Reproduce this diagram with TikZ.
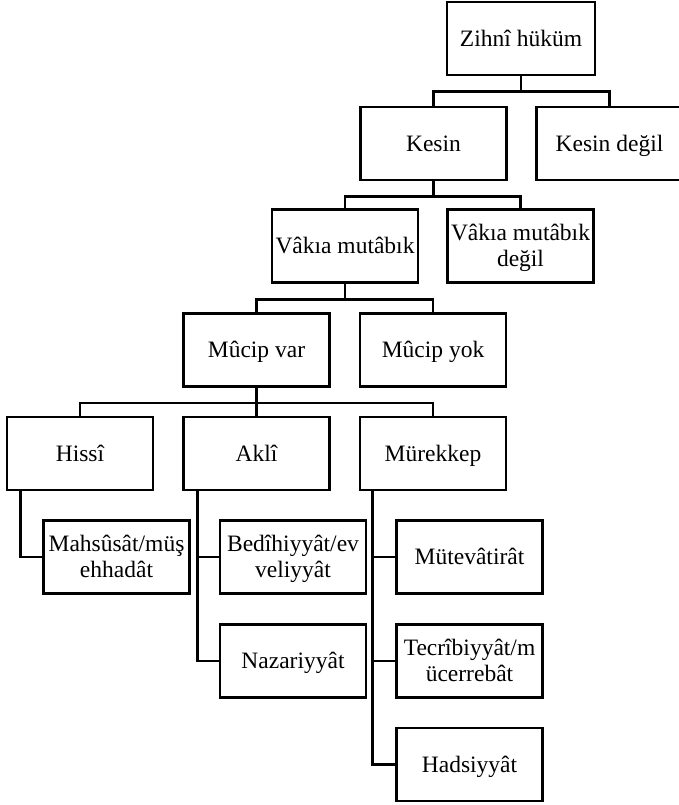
\documentclass[tikz,border=0pt]{standalone}
\usepackage{fontspec}
\setmainfont{Liberation Serif}
\newcommand\twolines[2]{\begin{tabular}[t]{@{}c@{}}#1\\#2\end{tabular}}
\begin{document}
\begin{tikzpicture}[x=1pt,y=-1pt,
  box/.style={draw, line width=2.7pt, minimum width=146pt, minimum height=73pt,
    inner sep=1pt, font=\fontsize{23.5}{26}\selectfont,
    text height=15.5pt, text depth=0pt},
  twobox/.style={box, text depth=26pt},
  conn/.style={line width=2.7pt}]
\useasboundingbox (0,0) rectangle (678,805);
\node[box, minimum width=148pt] (z) at (521,38.5) {Zihnî hüküm};
\node[box] (kesin) at (433.5,143.5) {Kesin};
\node[box] (kd) at (609.5,143.5) {Kesin değil};
\node[box] (vm) at (345,246) {Vâkıa mutâbık};
\node[twobox] (vmd) at (520.5,246) {\twolines{Vâkıa mutâbık}{değil}};
\node[box] (mv) at (256.5,350) {Mûcip var};
\node[box] (my) at (433,350) {Mûcip yok};
\node[box] (hissi) at (80,453.5) {Hissî};
\node[box] (akli) at (256.5,453.5) {Aklî};
\node[box] (mur) at (433,453.5) {Mürekkep};
\node[twobox] (mahs) at (116.5,557) {\twolines{Mahsûsât/müş}{ehhadât}};
\node[twobox] (bed) at (293,557) {\twolines{Bedîhiyyât/ev}{veliyyât}};
\node[box] (naz) at (293,661) {Nazariyyât};
\node[box] (mut) at (469.5,557) {Mütevâtirât};
\node[twobox] (tec) at (469.5,661) {\twolines{Tecrîbiyyât/m}{ücerrebât}};
\node[box] (had) at (469.5,764.5) {Hadsiyyât};
% tree connectors
\draw[conn] (z.south) -- ++(0,15) -| (kesin.north);
\draw[conn] (z.south) -- ++(0,15) -| (kd.north);
\draw[conn] (kesin.south) -- ++(0,15) -| (vm.north);
\draw[conn] (kesin.south) -- ++(0,15) -| (vmd.north);
\draw[conn] (vm.south) -- ++(0,15.5) -| (mv.north);
\draw[conn] (vm.south) -- ++(0,15.5) -| (my.north);
\draw[conn] (mv.south) -- ++(0,15) -| (hissi.north);
\draw[conn] (mv.south) -- (akli.north);
\draw[conn] (mv.south) -- ++(0,15) -| (mur.north);
% side connectors
\draw[conn] ([xshift=15pt]hissi.south west) |- (mahs.west);
\draw[conn] ([xshift=15pt]akli.south west) |- (bed.west);
\draw[conn] ([xshift=15pt]akli.south west) |- (naz.west);
\draw[conn] ([xshift=14pt]mur.south west) |- (mut.west);
\draw[conn] ([xshift=14pt]mur.south west) |- (tec.west);
\draw[conn] ([xshift=14pt]mur.south west) |- (had.west);
\end{tikzpicture}
\end{document}
